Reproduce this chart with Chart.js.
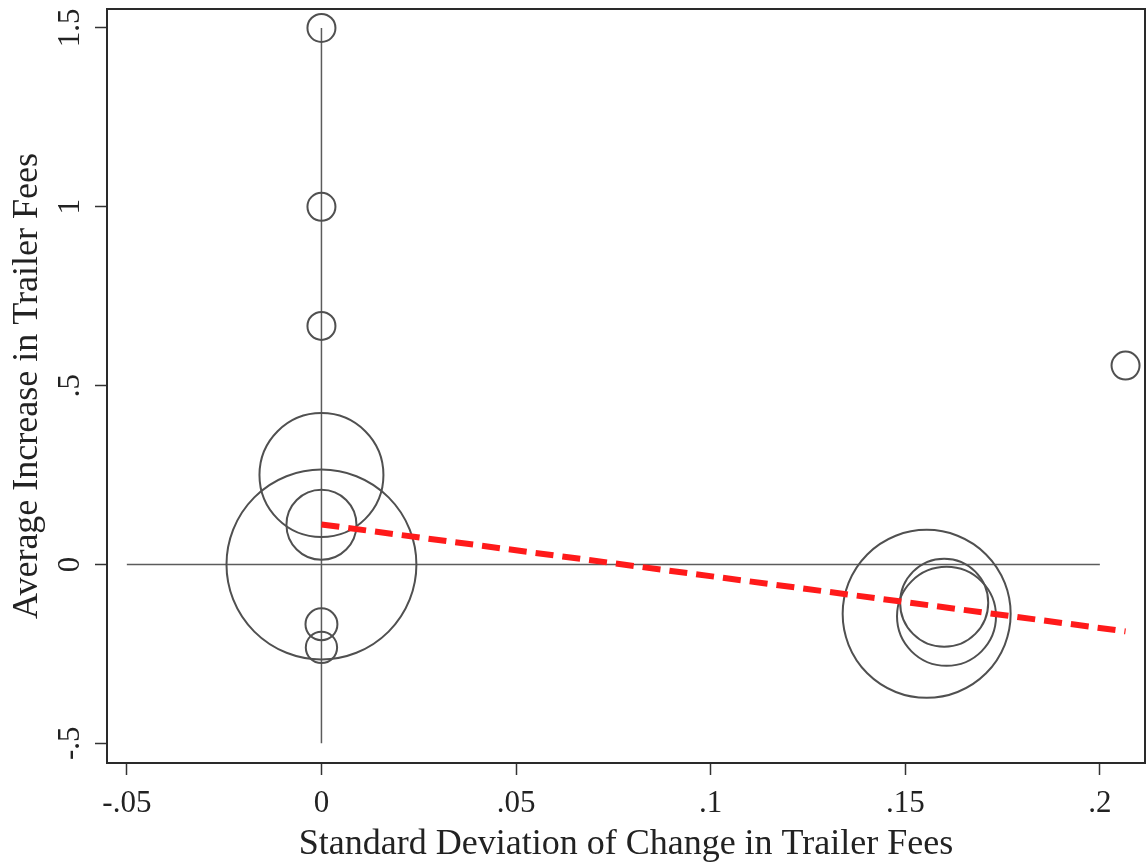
<!DOCTYPE html>
<html>
<head>
<meta charset="utf-8">
<title>Trailer Fees</title>
<script src="https://cdn.jsdelivr.net/npm/chart.js@4/dist/chart.umd.min.js"></script>
<style>
  html, body { margin: 0; padding: 0; background: #ffffff; }
  #wrap { width: 1148px; height: 867px; }
</style>
</head>
<body>
<div id="wrap"><canvas id="chart" width="1148" height="867"></canvas></div>
<script>
// Observations: standard deviation of fee change (x), average increase (y), weight
const sdChange  = [0, 0, 0, 0, 0, 0, 0, 0, 0.2066, 0.1555, 0.1606, 0.1600];
const avgIncrease = [1.5, 1.0, 0.667, 0.25, 0.111, 0.0, -0.167, -0.232, 0.556, -0.138, -0.145, -0.107];
const weights   = [1, 1, 1, 19.6, 6.25, 46, 1.3, 1.25, 1, 36, 12.5, 9.9];

// Weighted linear fit
const fitX = [0, 0.2066];
const fitY = [0.112, -0.187];

// Reference lines at x = 0 and y = 0
const vRefX = [0, 0];
const vRefY = [-0.5, 1.5];
const hRefX = [-0.05, 0.2];
const hRefY = [0, 0];

// Axis ticks
const xTicks = [-0.05, 0, 0.05, 0.1, 0.15, 0.2];
const xTickLabels = ['-.05', '0', '.05', '.1', '.15', '.2'];
const yTicks = [-0.5, 0, 0.5, 1, 1.5];
const yTickLabels = ['-.5', '0', '.5', '1', '1.5'];

const BASE_RADIUS = 14; // marker radius for weight 1 (area proportional to weight)

const pts = (xs, ys) => xs.map((x, i) => ({ x: x, y: ys[i] }));
const bubbles = sdChange.map((x, i) => ({ x: x, y: avgIncrease[i], r: BASE_RADIUS * Math.sqrt(weights[i]) }));

const SERIF = '"Liberation Serif", "DejaVu Serif", serif';

const framePlugin = {
  id: 'frame',
  afterDraw(chart) {
    const { ctx, chartArea: a } = chart;
    ctx.save();
    ctx.strokeStyle = '#2a2a2a';
    ctx.lineWidth = 2;
    ctx.strokeRect(a.left, a.top, a.right - a.left, a.bottom - a.top);
    ctx.restore();
  }
};

function noPadding(s) {
  s.paddingLeft = 0; s.paddingRight = 0; s.paddingTop = 0; s.paddingBottom = 0;
}

new Chart(document.getElementById('chart'), {
  data: {
    datasets: [
      {
        type: 'line',
        data: pts(fitX, fitY),
        borderColor: '#ff1a1a',
        borderWidth: 6,
        borderDash: [18, 9],
        borderCapStyle: 'butt',
        pointRadius: 0,
        fill: false,
        order: 0
      },
      {
        type: 'bubble',
        data: bubbles,
        backgroundColor: 'rgba(0,0,0,0)',
        borderColor: '#505050',
        borderWidth: 2,
        hoverRadius: 0,
        order: 1
      },
      {
        type: 'line',
        data: pts(vRefX, vRefY),
        borderColor: '#5c5c5c',
        borderWidth: 1.5,
        pointRadius: 0,
        fill: false,
        order: 2
      },
      {
        type: 'line',
        data: pts(hRefX, hRefY),
        borderColor: '#5c5c5c',
        borderWidth: 1.5,
        pointRadius: 0,
        fill: false,
        order: 2
      }
    ]
  },
  options: {
    responsive: false,
    animation: false,
    events: [],
    layout: { autoPadding: false, padding: { top: 9, right: 3, left: 0, bottom: 0 } },
    plugins: {
      legend: { display: false },
      tooltip: { enabled: false }
    },
    scales: {
      x: {
        type: 'linear',
        min: -0.0551,
        max: 0.2116,
        afterBuildTicks: (s) => { s.ticks = xTicks.map(v => ({ value: v })); },
        afterFit: (s) => { s.height = 104; noPadding(s); },
        ticks: {
          color: '#222',
          font: { family: SERIF, size: 31 },
          padding: 10,
          maxRotation: 0,
          minRotation: 0,
          callback: (v) => xTickLabels[xTicks.indexOf(v)]
        },
        grid: {
          drawOnChartArea: false,
          drawTicks: true,
          tickLength: 12,
          tickWidth: 1.5,
          tickColor: '#333'
        },
        border: { color: '#1e1e1e', width: 2 },
        title: {
          display: true,
          text: 'Standard Deviation of Change in Trailer Fees',
          color: '#222',
          font: { family: SERIF, size: 36 },
          padding: { top: 0, bottom: 1 }
        }
      },
      y: {
        type: 'linear',
        min: -0.555,
        max: 1.553,
        afterBuildTicks: (s) => { s.ticks = yTicks.map(v => ({ value: v })); },
        afterFit: (s) => { s.width = 107; noPadding(s); },
        ticks: {
          color: '#222',
          font: { family: SERIF, size: 31 },
          padding: 5,
          minRotation: 90,
          maxRotation: 90,
          crossAlign: 'center',
          callback: (v) => yTickLabels[yTicks.indexOf(v)]
        },
        grid: {
          drawOnChartArea: false,
          drawTicks: true,
          tickLength: 12,
          tickWidth: 1.5,
          tickColor: '#333'
        },
        border: { color: '#1e1e1e', width: 2 },
        title: {
          display: true,
          text: 'Average Increase in Trailer Fees',
          color: '#222',
          font: { family: SERIF, size: 36 },
          padding: { top: 6, bottom: 0 }
        }
      }
    }
  },
  plugins: [framePlugin]
});
</script>
</body>
</html>
